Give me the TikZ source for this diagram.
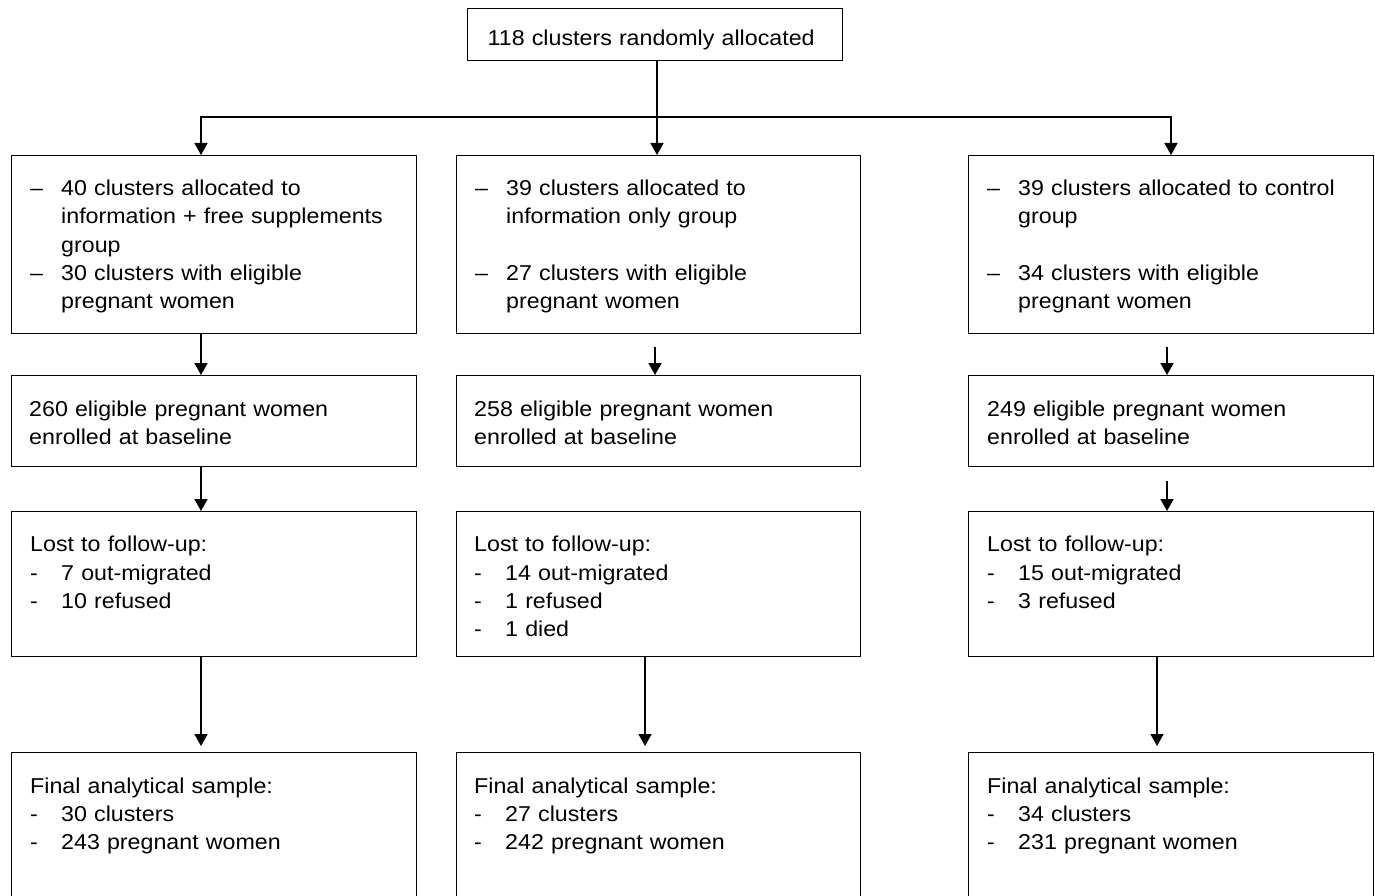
\documentclass[tikz,border=0pt]{standalone}
\usepackage{fontspec}
\setmainfont[FakeStretch=1.08]{Liberation Sans}
\usetikzlibrary{arrows.meta,calc}
\newcommand\dashitem[1]{\makebox[31pt][l]{#1}}
\newcommand\hang{\hspace*{31pt}}
\begin{document}
\begin{tikzpicture}[x=1pt,y=-1pt,
  box/.style={draw=black,line width=1.3pt,rectangle,inner sep=0pt,anchor=north west},
  txt/.style={anchor=base west,inner sep=0pt,align=left,text width=390pt,
    font=\fontsize{21.5pt}{28.3pt}\selectfont},
  arr/.style={line width=1.6pt,-{Triangle[width=13pt,length=12pt]}}]
\clip (0,0) rectangle (1375,896);
\fill[white] (0,0) rectangle (1375,896);
% boxes
\node[box,minimum width=375pt,minimum height=52pt] (top) at (467,8) {};
\node[box,minimum width=405pt,minimum height=178pt] (r1a) at (11,155) {};
\node[box,minimum width=404pt,minimum height=178pt] (r1b) at (456,155) {};
\node[box,minimum width=405pt,minimum height=178pt] (r1c) at (968,155) {};
\node[box,minimum width=405pt,minimum height=91pt] (r2a) at (11,375) {};
\node[box,minimum width=404pt,minimum height=91pt] (r2b) at (456,375) {};
\node[box,minimum width=405pt,minimum height=91pt] (r2c) at (968,375) {};
\node[box,minimum width=405pt,minimum height=145pt] (r3a) at (11,511) {};
\node[box,minimum width=404pt,minimum height=145pt] (r3b) at (456,511) {};
\node[box,minimum width=405pt,minimum height=145pt] (r3c) at (968,511) {};
\node[box,minimum width=405pt,minimum height=160pt] (r4a) at (11,752) {};
\node[box,minimum width=404pt,minimum height=160pt] (r4b) at (456,752) {};
\node[box,minimum width=405pt,minimum height=160pt] (r4c) at (968,752) {};
% texts
\node[txt] (ttop) at ($(top.north west)+(20.5,37.7)$) {118 clusters randomly allocated};
\node[txt] (t1a) at ($(r1a.north west)+(19,40.5)$) {\dashitem{–}40 clusters allocated to\\
  \hang information + free supplements\\ \hang group\\
  \dashitem{–}30 clusters with eligible\\ \hang pregnant women};
\node[txt] (t1b) at ($(r1b.north west)+(19,40.5)$) {\dashitem{–}39 clusters allocated to\\
  \hang information only group\\[28.3pt]
  \dashitem{–}27 clusters with eligible\\ \hang pregnant women};
\node[txt] (t1c) at ($(r1c.north west)+(19,40.5)$) {\dashitem{–}39 clusters allocated to control\\
  \hang group\\[28.3pt]
  \dashitem{–}34 clusters with eligible\\ \hang pregnant women};
\node[txt] (t2a) at ($(r2a.north west)+(18,41)$) {260 eligible pregnant women\\ enrolled at baseline};
\node[txt] (t2b) at ($(r2b.north west)+(18,41)$) {258 eligible pregnant women\\ enrolled at baseline};
\node[txt] (t2c) at ($(r2c.north west)+(19,41)$) {249 eligible pregnant women\\ enrolled at baseline};
\node[txt] (t3a) at ($(r3a.north west)+(19,40.7)$) {Lost to follow-up:\\
  \dashitem{-}7 out-migrated\\ \dashitem{-}10 refused};
\node[txt] (t3b) at ($(r3b.north west)+(18,40.7)$) {Lost to follow-up:\\
  \dashitem{-}14 out-migrated\\ \dashitem{-}1 refused\\ \dashitem{-}1 died};
\node[txt] (t3c) at ($(r3c.north west)+(19,40.7)$) {Lost to follow-up:\\
  \dashitem{-}15 out-migrated\\ \dashitem{-}3 refused};
\node[txt] (t4a) at ($(r4a.north west)+(19,41.3)$) {Final analytical sample:\\
  \dashitem{-}30 clusters\\ \dashitem{-}243 pregnant women};
\node[txt] (t4b) at ($(r4b.north west)+(18,41.3)$) {Final analytical sample:\\
  \dashitem{-}27 clusters\\ \dashitem{-}242 pregnant women};
\node[txt] (t4c) at ($(r4c.north west)+(19,41.3)$) {Final analytical sample:\\
  \dashitem{-}34 clusters\\ \dashitem{-}231 pregnant women};
% connector x positions
\coordinate (xa) at (201,0);
\coordinate (xb) at (657,0);
\coordinate (xc) at (1171,0);
\coordinate (xb2) at (655,0);
\coordinate (xc2) at (1167,0);
\coordinate (xb3) at (645,0);
\coordinate (xc3) at (1157,0);
\coordinate (j) at (657,117);
% connectors
\draw[arr] (top.south -| xb) -- (r1b.north -| xb);
\draw[arr] (j) -| (r1a.north -| xa);
\draw[arr] (j) -| (r1c.north -| xc);
\draw[arr] (r1a.south -| xa) -- (r2a.north -| xa);
\draw[arr] ($(r1b.south -| xb2)+(0,13)$) -- (r2b.north -| xb2);
\draw[arr] ($(r1c.south -| xc2)+(0,13)$) -- (r2c.north -| xc2);
\draw[arr] (r2a.south -| xa) -- (r3a.north -| xa);
\draw[arr] ($(r2c.south -| xc2)+(0,14)$) -- (r3c.north -| xc2);
\draw[arr] (r3a.south -| xa) -- ($(r4a.north -| xa)+(0,-6)$);
\draw[arr] (r3b.south -| xb3) -- ($(r4b.north -| xb3)+(0,-6)$);
\draw[arr] (r3c.south -| xc3) -- ($(r4c.north -| xc3)+(0,-6)$);
\end{tikzpicture}
\end{document}
